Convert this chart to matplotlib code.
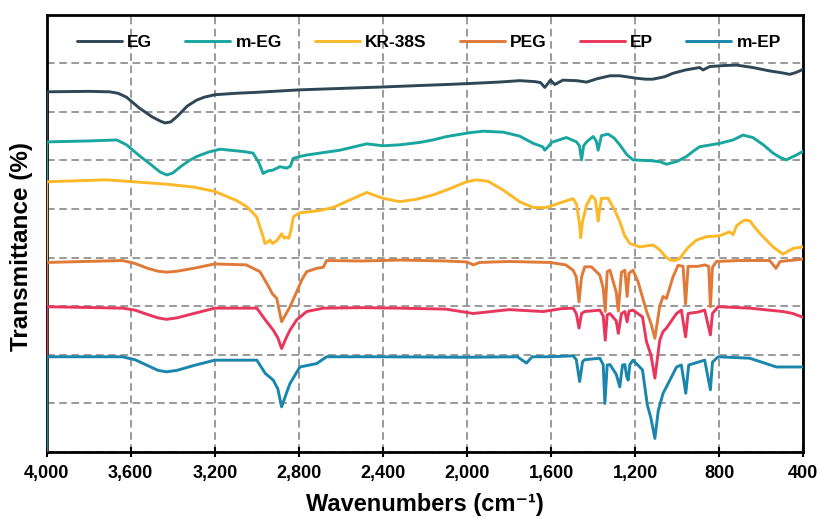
import matplotlib
matplotlib.use("Agg")
import matplotlib.pyplot as plt
from matplotlib.ticker import FuncFormatter

plt.rcParams['font.family'] = ['Liberation Sans', 'DejaVu Sans']
plt.rcParams['font.weight'] = 'bold'

# spectra, offset already included (first point is the drop to zero at 4000)
eg_wn = [4000, 4000, 3800, 3700, 3660, 3620, 3560, 3500, 3460, 3437, 3410, 3380, 3330, 3286, 3250,
         3200, 3100, 3000, 2800, 2600, 2400, 2224, 2100, 1994, 1850, 1748, 1677, 1650, 1630, 1615,
         1603, 1582, 1544, 1480, 1431, 1380, 1320, 1273, 1194, 1150, 1116, 1060, 1021, 960, 893, 877,
         845, 780, 718, 640, 560, 500, 465, 440, 417, 400]
eg_t = [0, 7.41, 7.42, 7.41, 7.38, 7.30, 7.08, 6.90, 6.81, 6.77, 6.79, 6.90, 7.12, 7.24, 7.30,
        7.35, 7.38, 7.40, 7.45, 7.48, 7.51, 7.54, 7.56, 7.58, 7.61, 7.64, 7.62, 7.60, 7.50, 7.58,
        7.65, 7.56, 7.65, 7.64, 7.61, 7.68, 7.74, 7.74, 7.69, 7.67, 7.67, 7.72, 7.79, 7.86, 7.91, 7.86,
        7.93, 7.95, 7.96, 7.91, 7.84, 7.80, 7.77, 7.80, 7.84, 7.88]

meg_wn = [4000, 4000, 3800, 3666, 3620, 3560, 3500, 3460, 3428, 3400, 3360, 3320, 3286, 3230, 3175,
          3060, 3018, 2990, 2970, 2950, 2923, 2890, 2858, 2840, 2827, 2795, 2763, 2604, 2477, 2400,
          2319, 2224, 2162, 2097, 1986, 1923, 1828, 1750, 1685, 1640, 1630, 1610, 1598, 1527, 1479,
          1465, 1455, 1445, 1431, 1400, 1385, 1376, 1366, 1360, 1329, 1300, 1273, 1240, 1210, 1115,
          1080, 1051, 1000, 956, 920, 893, 798, 734, 687, 640, 590, 544, 510, 481, 433, 400]
meg_t = [0, 6.38, 6.40, 6.42, 6.32, 6.10, 5.90, 5.76, 5.70, 5.74, 5.88, 6.00, 6.08, 6.17, 6.23,
         6.18, 6.15, 5.95, 5.73, 5.78, 5.80, 5.87, 5.84, 5.88, 6.04, 6.08, 6.11, 6.21, 6.34, 6.30,
         6.32, 6.37, 6.42, 6.49, 6.57, 6.60, 6.58, 6.50, 6.35, 6.28, 6.21, 6.30, 6.37, 6.47, 6.38,
         6.30, 6.01, 6.30, 6.38, 6.49, 6.40, 6.21, 6.40, 6.51, 6.54, 6.46, 6.32, 6.12, 6.01, 5.99,
         5.97, 5.92, 5.98, 6.08, 6.20, 6.28, 6.35, 6.42, 6.52, 6.47, 6.32, 6.15, 6.06, 6.01, 6.11, 6.19]

kr_wn = [4000, 4000, 3714, 3428, 3300, 3199, 3100, 3048, 3001, 2975, 2961, 2945, 2937, 2925, 2905,
         2882, 2870, 2861, 2848, 2838, 2826, 2795, 2700, 2637, 2560, 2477, 2400, 2319, 2240, 2161,
         2080, 2002, 1955, 1900, 1828, 1750, 1685, 1622, 1540, 1495, 1479, 1465, 1459, 1450, 1431,
         1407, 1390, 1380, 1376, 1370, 1360, 1329, 1300, 1273, 1250, 1225, 1178, 1115, 1083, 1060,
         1035, 1010, 988, 950, 908, 861, 798, 750, 734, 718, 702, 680, 655, 630, 607, 544, 497, 449, 400]
kr_t = [0, 5.56, 5.60, 5.51, 5.45, 5.36, 5.18, 5.05, 4.84, 4.50, 4.29, 4.33, 4.36, 4.29, 4.35,
        4.49, 4.40, 4.42, 4.40, 4.55, 4.84, 4.92, 4.97, 5.03, 5.18, 5.34, 5.22, 5.15, 5.20, 5.29,
        5.42, 5.56, 5.60, 5.57, 5.39, 5.15, 5.03, 5.03, 5.15, 5.21, 5.10, 4.70, 4.41, 4.75, 5.08,
        5.27, 5.20, 4.90, 4.75, 4.95, 5.22, 5.22, 5.00, 4.74, 4.45, 4.29, 4.22, 4.26, 4.16, 4.04,
        3.95, 3.94, 3.98, 4.20, 4.36, 4.43, 4.45, 4.53, 4.47, 4.65, 4.71, 4.77, 4.76, 4.62, 4.50, 4.22,
        4.07, 4.19, 4.22]

peg_wn = [4000, 4000, 3640, 3580, 3520, 3470, 3430, 3380, 3300, 3200, 3050, 2985, 2950, 2925, 2905,
          2882, 2860, 2842, 2810, 2785, 2763, 2715, 2684, 2668, 2500, 2320, 2100, 2000, 1970, 1940,
          1800, 1606, 1530, 1495, 1480, 1467, 1455, 1440, 1408, 1368, 1352, 1342, 1333, 1320, 1290,
          1280, 1265, 1249, 1238, 1229, 1210, 1186, 1146, 1125, 1106, 1083, 1067, 1051, 1020, 996,
          972, 960, 948, 900, 869, 850, 842, 832, 813, 700, 560, 530, 510, 400]
peg_t = [0, 3.90, 3.94, 3.88, 3.78, 3.72, 3.70, 3.72, 3.78, 3.87, 3.85, 3.71, 3.45, 3.25, 3.16,
         2.68, 2.85, 2.99, 3.30, 3.55, 3.71, 3.78, 3.80, 3.94, 3.93, 3.95, 3.93, 3.91, 3.85, 3.90,
         3.92, 3.90, 3.85, 3.74, 3.60, 3.09, 3.60, 3.81, 3.81, 3.64, 3.37, 2.89, 3.71, 3.74, 3.29,
         2.90, 3.70, 3.74, 3.20, 3.68, 3.74, 3.50, 2.90, 2.65, 2.34, 3.00, 3.20, 3.16, 3.60, 3.84,
         3.82, 3.05, 3.82, 3.82, 3.85, 3.82, 2.99, 3.80, 3.92, 3.94, 3.94, 3.78, 3.92, 3.97]

ep_wn = [4000, 4000, 3640, 3580, 3520, 3470, 3430, 3380, 3300, 3200, 3000, 2960, 2922, 2900, 2882,
         2860, 2842, 2810, 2763, 2684, 2500, 2320, 2100, 1970, 1800, 1638, 1550, 1495, 1480, 1467,
         1455, 1440, 1368, 1352, 1342, 1333, 1320, 1290, 1280, 1265, 1249, 1238, 1229, 1210, 1165,
         1146, 1125, 1106, 1083, 1067, 1051, 1003, 980, 960, 948, 900, 869, 842, 832, 805, 655, 496,
         450, 400]
ep_t = [0, 2.99, 2.96, 2.92, 2.83, 2.76, 2.73, 2.76, 2.85, 2.96, 2.96, 2.72, 2.51, 2.35, 2.13,
        2.35, 2.51, 2.72, 2.89, 2.96, 2.97, 2.96, 2.94, 2.85, 2.93, 2.89, 2.95, 2.96, 2.85, 2.55,
        2.85, 2.89, 2.92, 2.80, 2.30, 2.82, 2.85, 2.70, 2.44, 2.85, 2.89, 2.68, 2.90, 2.92, 2.78,
        2.27, 2.00, 1.52, 2.30, 2.48, 2.55, 2.85, 2.92, 2.37, 2.85, 2.88, 2.92, 2.41, 2.85, 2.99,
        2.96, 2.89, 2.85, 2.77]

mep_wn = [4000, 4000, 3640, 3580, 3520, 3470, 3430, 3380, 3300, 3200, 3000, 2960, 2922, 2900, 2882,
          2860, 2842, 2795, 2715, 2668, 2400, 2000, 1760, 1717, 1690, 1600, 1495, 1480, 1464, 1450,
          1440, 1368, 1352, 1344, 1333, 1320, 1290, 1273, 1260, 1249, 1240, 1233, 1225, 1210, 1165,
          1142, 1125, 1106, 1090, 1067, 1051, 1003, 980, 959, 945, 900, 869, 842, 832, 805, 655, 528,
          400]
mep_t = [0, 1.96, 1.96, 1.90, 1.78, 1.68, 1.65, 1.68, 1.78, 1.89, 1.89, 1.62, 1.48, 1.30, 0.93,
         1.20, 1.41, 1.75, 1.82, 1.96, 1.96, 1.95, 1.96, 1.83, 1.96, 1.96, 1.98, 1.90, 1.45, 1.86,
         1.90, 1.93, 1.80, 1.00, 1.79, 1.80, 1.60, 1.34, 1.79, 1.80, 1.55, 1.48, 1.80, 1.89, 1.69,
         0.97, 0.70, 0.28, 0.85, 1.21, 1.34, 1.75, 1.79, 1.21, 1.79, 1.85, 1.89, 1.28, 1.85, 1.96,
         1.93, 1.75, 1.75]

labels = ["EG", "m-EG", "KR-38S", "PEG", "EP", "m-EP"]
colors = ["#2f4656", "#1aa6a0", "#fdb827", "#e07a38", "#e8375c", "#1a85ad"]
xticks = [4000, 3600, 3200, 2800, 2400, 2000, 1600, 1200, 800, 400]

series = [(eg_wn, eg_t), (meg_wn, meg_t), (kr_wn, kr_t),
          (peg_wn, peg_t), (ep_wn, ep_t), (mep_wn, mep_t)]

fig = plt.figure(figsize=(8.18, 5.19), dpi=100)
ax = fig.add_axes([0.057, 0.129, 0.925, 0.843])

for (wn, t), lab, c in zip(series, labels, colors):
    ax.plot(wn, t, color=c, lw=2.1, label=lab, zorder=3,
            solid_joinstyle='round', solid_capstyle='round')

ax.set_xlim(4000, 400)
ax.set_ylim(0, 9)
ax.set_xticks(xticks)
ax.xaxis.set_major_formatter(FuncFormatter(lambda v, p: f"{int(v):,}"))
ax.set_yticks(range(0, 10))
ax.set_yticklabels([])
ax.tick_params(axis='y', length=0)
ax.tick_params(axis='x', direction='inout', length=7, width=1.5, labelsize=13, pad=6)
for lbl in ax.get_xticklabels():
    lbl.set_fontweight('bold')
ax.grid(True, color='#7f7f7f', ls=(0, (5, 3)), lw=1.1, zorder=1)
for s in ax.spines.values():
    s.set_linewidth(2)
    s.set_color('black')

ax.set_xlabel("Wavenumbers (cm⁻¹)", fontsize=17, fontweight='bold', labelpad=8)
ax.set_ylabel("Transmittance (%)", fontsize=17.5, fontweight='bold')
ax.yaxis.set_label_coords(-0.018, 0.47)

ax.legend(loc='upper center', bbox_to_anchor=(0.505, 0.99), ncol=6, frameon=False,
          handlelength=2.6, handletextpad=0.3, columnspacing=1.9,
          prop={'weight': 'bold', 'size': 12.5})

fig.savefig("out.png", dpi=100)
